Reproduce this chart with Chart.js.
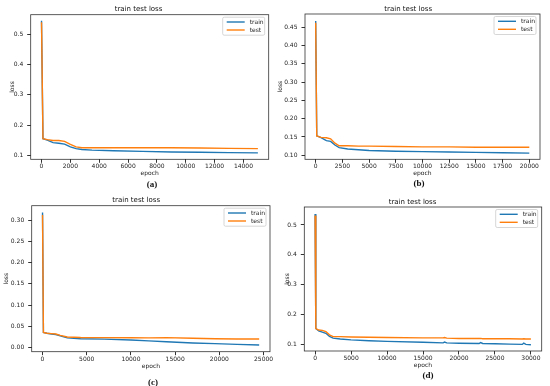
<!DOCTYPE html>
<html>
<head>
<meta charset="utf-8">
<script src="https://cdn.jsdelivr.net/npm/chart.js@4"></script>
<style>
  body { margin: 0; background: #fff; }
  #wrap { position: relative; width: 550px; height: 386px; overflow: hidden; }
  .panel { position: absolute; width: 275px; height: 193px; }
  .cap { position: absolute; font: bold 9px "Liberation Serif", serif; color: #111; transform: translate(-50%, -50%); }
</style>
</head>
<body>
<div id="wrap">
  <div class="panel" style="left:0;top:0"><canvas id="chartA" width="275" height="193"></canvas></div>
  <div class="panel" style="left:275px;top:0"><canvas id="chartB" width="275" height="193"></canvas></div>
  <div class="panel" style="left:0;top:193px"><canvas id="chartC" width="275" height="193"></canvas></div>
  <div class="panel" style="left:275px;top:193px"><canvas id="chartD" width="275" height="193"></canvas></div>
  <span class="cap" style="left:152px;top:184px">(a)</span>
  <span class="cap" style="left:419px;top:183px">(b)</span>
  <span class="cap" style="left:153px;top:382px">(c)</span>
  <span class="cap" style="left:428px;top:375px">(d)</span>
</div>
<script>
// panel (a)
const aEpoch = [0, 100, 400, 800, 1200, 1600, 2000, 2400, 2800, 3500, 5000, 7000, 9000, 11000, 13000, 15000];
const aTrain = [0.545, 0.155, 0.150, 0.142, 0.140, 0.137, 0.128, 0.122, 0.119, 0.117, 0.115, 0.113, 0.111, 0.110, 0.109, 0.108];
const aTest = [0.540, 0.155, 0.152, 0.149, 0.149, 0.146, 0.136, 0.128, 0.125, 0.125, 0.125, 0.125, 0.125, 0.124, 0.123, 0.122];
const aXTicks = [0, 2000, 4000, 6000, 8000, 10000, 12000, 14000];
const aYTicks = [0.1, 0.2, 0.3, 0.4, 0.5];

// panel (b)
const bEpoch = [0, 100, 500, 1000, 1400, 1800, 2200, 3000, 4000, 5000, 7500, 10000, 12500, 15000, 17500, 20000];
const bTrain = [0.467, 0.153, 0.148, 0.140, 0.138, 0.128, 0.121, 0.117, 0.115, 0.113, 0.111, 0.110, 0.109, 0.108, 0.107, 0.106];
const bTest = [0.462, 0.153, 0.149, 0.148, 0.145, 0.133, 0.126, 0.126, 0.125, 0.125, 0.124, 0.123, 0.123, 0.122, 0.122, 0.122];
const bXTicks = [0, 2500, 5000, 7500, 10000, 12500, 15000, 17500, 20000];
const bYTicks = [0.10, 0.15, 0.20, 0.25, 0.30, 0.35, 0.40, 0.45];

// panel (c)
const cEpoch = [0, 100, 500, 1000, 1500, 2000, 2800, 4300, 7000, 10000, 12000, 14000, 17000, 19500, 22000, 24500];
const cTrain = [0.318, 0.036, 0.034, 0.032, 0.031, 0.028, 0.023, 0.021, 0.020, 0.018, 0.016, 0.014, 0.011, 0.0095, 0.0078, 0.0064];
const cTest = [0.312, 0.036, 0.034, 0.033, 0.032, 0.029, 0.025, 0.0240, 0.0236, 0.0232, 0.023, 0.0235, 0.022, 0.0208, 0.0205, 0.0205];
const cXTicks = [0, 5000, 10000, 15000, 20000, 25000];
const cYTicks = [0.00, 0.05, 0.10, 0.15, 0.20, 0.25, 0.30];

// panel (d) - train gets a bit noisy towards the end
const dEpoch = [0, 100, 500, 1000, 1500, 2000, 2500, 3500, 5000, 7500, 10000, 15000, 17800, 18000, 18300, 20000, 22800, 23000, 23300, 25000, 27000, 28800, 29000, 29300, 30000];
const dTrain = [0.537, 0.154, 0.146, 0.142, 0.138, 0.128, 0.122, 0.119, 0.116, 0.113, 0.111, 0.108, 0.106, 0.109, 0.106, 0.105, 0.104, 0.107, 0.104, 0.103, 0.102, 0.101, 0.105, 0.101, 0.100];
const dTest = [0.532, 0.154, 0.149, 0.148, 0.144, 0.133, 0.127, 0.127, 0.126, 0.125, 0.124, 0.123, 0.123, 0.124, 0.122, 0.121, 0.121, 0.121, 0.120, 0.120, 0.120, 0.119, 0.120, 0.119, 0.119];
const dXTicks = [0, 5000, 10000, 15000, 20000, 25000, 30000];
const dYTicks = [0.1, 0.2, 0.3, 0.4, 0.5];

const BLUE = '#1f77b4';
const ORANGE = '#ff7f0e';
const FONT = 'DejaVu Sans';

// frame round the plot area plus matplotlib style legend box
const framePlugin = {
    id: 'frame',
    afterDraw(chart) {
        const a = chart.chartArea;
        const ctx = chart.ctx;
        ctx.save();
        ctx.strokeStyle = '#333';
        ctx.lineWidth = 0.8;
        ctx.strokeRect(a.left, a.top, a.right - a.left, a.bottom - a.top);

        const bx = a.right - 46, by = a.top + 2.5, bw = 42, bh = 18;
        ctx.fillStyle = 'rgba(255,255,255,0.85)';
        ctx.strokeStyle = '#ccc';
        ctx.lineWidth = 0.8;
        ctx.beginPath();
        ctx.roundRect(bx, by, bw, bh, 1.5);
        ctx.fill();
        ctx.stroke();

        ctx.font = '6px ' + FONT;
        ctx.textBaseline = 'middle';
        const items = [['train', BLUE], ['test', ORANGE]];
        items.forEach(function(it, i) {
            const y = by + 4.8 + i * 8;
            ctx.strokeStyle = it[1];
            ctx.lineWidth = 1.4;
            ctx.beginPath();
            ctx.moveTo(bx + 4, y);
            ctx.lineTo(bx + 22, y);
            ctx.stroke();
            ctx.fillStyle = '#222';
            ctx.fillText(it[0], bx + 27, y);
        });
        ctx.restore();
    }
};

function makeChart(id, epochs, train, test, xTicks, yTicks, dec, cfg) {
    const ctx = document.getElementById(id).getContext('2d');
    const pts = function(ys) { return epochs.map(function(x, i) { return { x: x, y: ys[i] }; }); };

    return new Chart(ctx, {
        type: 'line',
        data: {
            datasets: [
                { label: 'train', data: pts(train), borderColor: BLUE, borderWidth: 1.4, pointRadius: 0, order: 2 },
                { label: 'test', data: pts(test), borderColor: ORANGE, borderWidth: 1.4, pointRadius: 0, order: 1 }
            ]
        },
        options: {
            responsive: false,
            animation: false,
            layout: { padding: { left: cfg.padLeft, right: cfg.padRight, top: 0, bottom: cfg.padBottom } },
            scales: {
                x: {
                    type: 'linear',
                    min: cfg.xMin,
                    max: cfg.xMax,
                    border: { display: false },
                    grid: { drawOnChartArea: false, drawTicks: true, tickLength: 3.5, color: '#333' },
                    ticks: { font: { family: FONT, size: 6 }, color: '#222', padding: 0.5, maxRotation: 0,
                             callback: function(v) { return String(v); } },
                    afterBuildTicks: function(s) { s.ticks = xTicks.map(function(v) { return { value: v }; }); },
                    afterFit: function(s) { s.height = 18; },
                    title: { display: true, text: 'epoch', font: { family: FONT, size: 6 }, color: '#222', padding: 0 }
                },
                y: {
                    type: 'linear',
                    min: cfg.yMin,
                    max: cfg.yMax,
                    border: { display: false },
                    grid: { drawOnChartArea: false, drawTicks: true, tickLength: 3.5, color: '#333' },
                    ticks: { font: { family: FONT, size: 6 }, color: '#222', padding: 4,
                             callback: function(v) { return v.toFixed(dec); } },
                    afterBuildTicks: function(s) { s.ticks = yTicks.map(function(v) { return { value: v }; }); },
                    afterFit: function(s) { s.width = cfg.chartLeft - cfg.padLeft; },
                    title: { display: true, text: 'loss', font: { family: FONT, size: 6 }, color: '#222', padding: 0 }
                }
            },
            plugins: {
                legend: { display: false },
                tooltip: { enabled: false },
                title: {
                    display: true,
                    text: 'train test loss',
                    font: { family: FONT, size: 7, weight: 'normal' },
                    color: '#111',
                    padding: { top: cfg.titleTop, bottom: cfg.titleBottom }
                }
            }
        },
        plugins: [framePlugin]
    });
}

makeChart('chartA', aEpoch, aTrain, aTest, aXTicks, aYTicks, 1, {
    xMin: -750, xMax: 15750, yMin: 0.0868, yMax: 0.565,
    padLeft: 8.4, padRight: 6.3, padBottom: 15.7, chartLeft: 30.7, titleTop: 4.8, titleBottom: 1.5
});
makeChart('chartB', bEpoch, bTrain, bTest, bXTicks, bYTicks, 2, {
    xMin: -1000, xMax: 21000, yMin: 0.089, yMax: 0.486,
    padLeft: 1.4, padRight: 10, padBottom: 15.7, chartLeft: 30, titleTop: 4.8, titleBottom: 0.8
});
makeChart('chartC', cEpoch, cTrain, cTest, cXTicks, cYTicks, 2, {
    xMin: -1225, xMax: 25725, yMin: -0.0095, yMax: 0.334,
    padLeft: 2.4, padRight: 5, padBottom: 16.3, chartLeft: 31.7, titleTop: 3.1, titleBottom: 1.2
});
makeChart('chartD', dEpoch, dTrain, dTest, dXTicks, dYTicks, 1, {
    xMin: -1500, xMax: 31500, yMin: 0.079, yMax: 0.56,
    padLeft: 8.4, padRight: 8.3, padBottom: 17, chartLeft: 29.3, titleTop: 4.8, titleBottom: 0.8
});
</script>
</body>
</html>
